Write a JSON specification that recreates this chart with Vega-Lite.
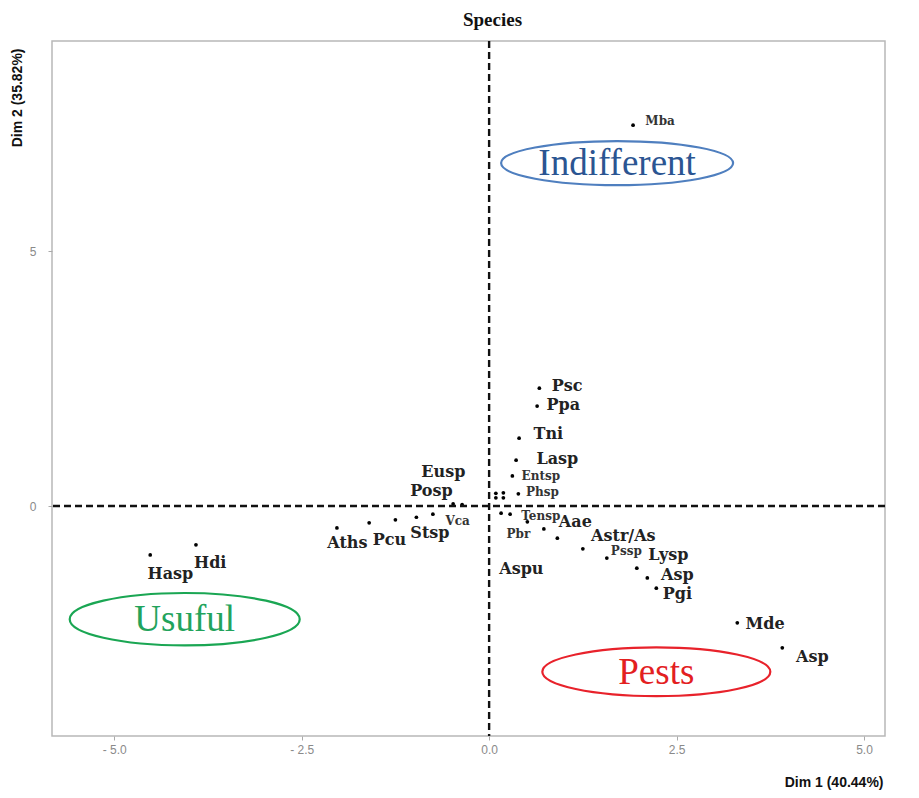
{
  "$schema": "https://vega.github.io/schema/vega-lite/v6.json",
  "autosize": {"type": "none"},
  "width": 833,
  "height": 695,
  "padding": {"left": 52, "top": 41, "right": 34, "bottom": 62},
  "background": "white",
  "title": {
    "text": "Species",
    "font": "Liberation Serif",
    "fontSize": 19,
    "fontWeight": "bold",
    "color": "#111111",
    "anchor": "middle",
    "dx": 24,
    "offset": 10
  },
  "config": {
    "view": {"stroke": "#b8b8b8", "strokeWidth": 1.5},
    "axis": {
      "grid": false,
      "domain": false,
      "tickColor": "#aaaaaa",
      "tickSize": 4,
      "labelColor": "#8a8a8a",
      "labelFont": "Liberation Sans",
      "labelFontSize": 12,
      "titleFont": "Liberation Sans Narrow, Liberation Sans",
      "titleFontWeight": "bold",
      "titleFontSize": 14,
      "titleColor": "#111111"
    }
  },
  "datasets": {
    "species": [
      {"name": "Mba", "x": 1.92, "y": 7.47, "lx": 2.28, "ly": 7.55},
      {"name": "Psc", "x": 0.67, "y": 2.31, "lx": 1.04, "ly": 2.35},
      {"name": "Ppa", "x": 0.64, "y": 1.96, "lx": 0.99, "ly": 1.98},
      {"name": "Tni", "x": 0.40, "y": 1.33, "lx": 0.79, "ly": 1.41},
      {"name": "Lasp", "x": 0.36, "y": 0.90, "lx": 0.91, "ly": 0.92},
      {"name": "Entsp", "x": 0.31, "y": 0.59, "lx": 0.69, "ly": 0.59},
      {"name": "Phsp", "x": 0.39, "y": 0.24, "lx": 0.71, "ly": 0.27},
      {"name": "", "x": 0.09, "y": 0.25},
      {"name": "", "x": 0.19, "y": 0.26},
      {"name": "", "x": 0.09, "y": 0.16},
      {"name": "", "x": 0.19, "y": 0.16},
      {"name": "", "x": 0.16, "y": -0.14},
      {"name": "Aspu", "x": 0.28, "y": -0.16, "lx": 0.43, "ly": -1.24},
      {"name": "Tensp", "x": 0.51, "y": -0.31, "lx": 0.69, "ly": -0.20},
      {"name": "Pbr", "x": 0.73, "y": -0.45, "lx": 0.39, "ly": -0.55},
      {"name": "Aae", "x": 0.91, "y": -0.63, "lx": 1.15, "ly": -0.31},
      {"name": "Astr/As", "x": 1.25, "y": -0.84, "lx": 1.79, "ly": -0.59},
      {"name": "Pssp", "x": 1.57, "y": -1.02, "lx": 1.83, "ly": -0.89},
      {"name": "Lysp", "x": 1.97, "y": -1.22, "lx": 2.39, "ly": -0.97},
      {"name": "Asp", "x": 2.11, "y": -1.41, "lx": 2.51, "ly": -1.35},
      {"name": "Pgi", "x": 2.23, "y": -1.61, "lx": 2.51, "ly": -1.73},
      {"name": "Mde", "x": 3.31, "y": -2.29, "lx": 3.68, "ly": -2.31},
      {"name": "Asp", "x": 3.91, "y": -2.78, "lx": 4.31, "ly": -2.96},
      {"name": "Eusp", "x": -0.48, "y": 0.04, "lx": -0.61, "ly": 0.66},
      {"name": "Posp", "x": -0.36, "y": 0.03, "lx": -0.77, "ly": 0.29},
      {"name": "Vca", "x": -0.75, "y": -0.16, "lx": -0.42, "ly": -0.29},
      {"name": "Stsp", "x": -0.97, "y": -0.22, "lx": -0.79, "ly": -0.52},
      {"name": "", "x": -1.25, "y": -0.27},
      {"name": "Pcu", "x": -1.60, "y": -0.33, "lx": -1.33, "ly": -0.67},
      {"name": "Aths", "x": -2.03, "y": -0.43, "lx": -1.89, "ly": -0.73},
      {"name": "Hdi", "x": -3.91, "y": -0.76, "lx": -3.72, "ly": -1.12},
      {"name": "Hasp", "x": -4.52, "y": -0.96, "lx": -4.25, "ly": -1.33}
    ],
    "groups": [
      {"group": "Indifferent", "x": 1.707, "y": 6.725},
      {"group": "Usuful", "x": -4.06, "y": -2.22},
      {"group": "Pests", "x": 2.23, "y": -3.25}
    ]
  },
  "layer": [
    {
      "data": {"name": "species"},
      "mark": {"type": "point", "filled": true, "color": "#000000", "size": 14, "opacity": 1},
      "encoding": {
        "x": {
          "field": "x",
          "type": "quantitative",
          "scale": {"domain": [-5.83, 5.28], "nice": false, "zero": false},
          "axis": {
            "values": [-5, -2.5, 0, 2.5, 5],
            "labelExpr": "datum.value < 0 ? '- ' + format(-datum.value, '.1f') : format(datum.value, '.1f')",
            "labelPadding": 4,
            "title": "Dim 1 (40.44%)",
            "titleAnchor": "end",
            "titleAlign": "right",
            "titleX": 831,
            "titleY": 46,
            "titleBaseline": "middle"
          }
        },
        "y": {
          "field": "y",
          "type": "quantitative",
          "scale": {"domain": [-4.51, 9.12], "nice": false, "zero": false},
          "axis": {
            "values": [0, 5],
            "labelPadding": 12,
            "title": "Dim 2 (35.82%)",
            "titleAngle": -90,
            "titleAlign": "right",
            "titleBaseline": "middle",
            "titleX": -35,
            "titleY": 7
          }
        }
      }
    },
    {
      "data": {"values": [{}]},
      "mark": {"type": "rule", "color": "#111111", "strokeWidth": 2.4, "strokeDash": [7, 4]},
      "encoding": {"x": {"datum": 0, "type": "quantitative"}}
    },
    {
      "data": {"values": [{}]},
      "mark": {"type": "rule", "color": "#111111", "strokeWidth": 2.4, "strokeDash": [7, 4]},
      "encoding": {"y": {"datum": 0, "type": "quantitative"}}
    },
    {
      "data": {"name": "groups"},
      "mark": {"type": "point", "filled": false, "strokeWidth": 2.2, "opacity": 1},
      "encoding": {
        "x": {"field": "x", "type": "quantitative"},
        "y": {"field": "y", "type": "quantitative"},
        "shape": {
          "field": "group",
          "type": "nominal",
          "legend": null,
          "scale": {
            "domain": ["Indifferent", "Usuful", "Pests"],
            "range": [
              "M-1,0A1,0.19 0 1,0 1,0A1,0.19 0 1,0 -1,0Z",
              "M-1,0A1,0.228 0 1,0 1,0A1,0.228 0 1,0 -1,0Z",
              "M-1,0A1,0.214 0 1,0 1,0A1,0.214 0 1,0 -1,0Z"
            ]
          }
        },
        "size": {
          "field": "group",
          "type": "nominal",
          "legend": null,
          "scale": {"domain": ["Indifferent", "Usuful", "Pests"], "range": [53824, 51984, 56644]}
        },
        "stroke": {
          "field": "group",
          "type": "nominal",
          "legend": null,
          "scale": {"domain": ["Indifferent", "Usuful", "Pests"], "range": ["#4f7fbf", "#1aa653", "#e8222b"]}
        }
      }
    },
    {
      "data": {"name": "groups"},
      "mark": {"type": "text", "font": "Liberation Serif", "fontSize": 37, "align": "center", "baseline": "middle", "dy": 1},
      "encoding": {
        "x": {"field": "x", "type": "quantitative"},
        "y": {"field": "y", "type": "quantitative"},
        "text": {"field": "group"},
        "fill": {
          "field": "group",
          "type": "nominal",
          "legend": null,
          "scale": {"domain": ["Indifferent", "Usuful", "Pests"], "range": ["#2b5592", "#22a35c", "#e3201f"]}
        }
      }
    },
    {
      "data": {"name": "species"},
      "transform": [
        {"filter": "datum.name != '' && indexof(['Mba','Entsp','Phsp','Tensp','Pbr','Vca','Pssp'], datum.name) < 0"}
      ],
      "mark": {"type": "text", "font": "DejaVu Serif", "fontWeight": "bold", "fontSize": 16, "color": "#222222", "align": "center", "baseline": "middle"},
      "encoding": {"x": {"field": "lx", "type": "quantitative"}, "y": {"field": "ly", "type": "quantitative"}, "text": {"field": "name"}}
    },
    {
      "data": {"name": "species"},
      "transform": [
        {"filter": "indexof(['Mba','Entsp','Phsp','Tensp','Pbr','Vca','Pssp'], datum.name) >= 0"}
      ],
      "mark": {"type": "text", "font": "DejaVu Serif", "fontWeight": "bold", "fontSize": 12, "color": "#333333", "align": "center", "baseline": "middle"},
      "encoding": {"x": {"field": "lx", "type": "quantitative"}, "y": {"field": "ly", "type": "quantitative"}, "text": {"field": "name"}}
    }
  ]
}
